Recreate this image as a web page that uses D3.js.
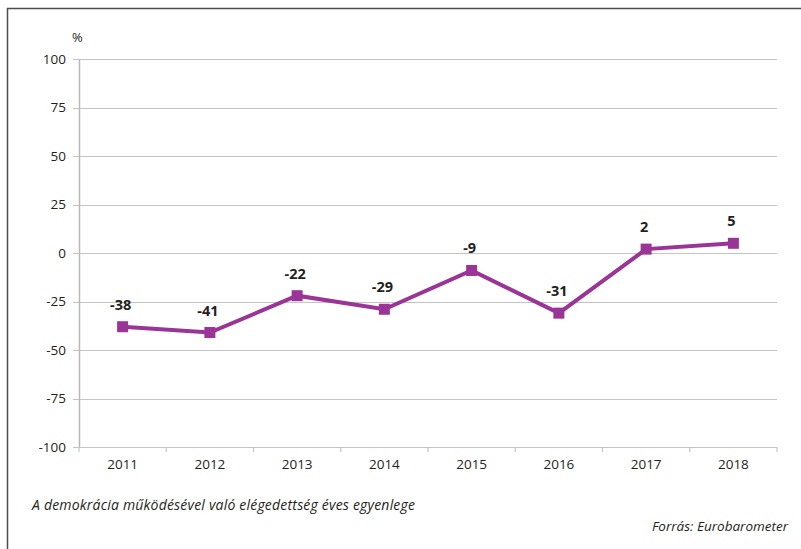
<!DOCTYPE html>
<html>
<head>
<meta charset="utf-8">
<script src="https://cdn.jsdelivr.net/npm/d3@7"></script>
<style>
  body { margin: 0; background: #fff; }
  svg text { font-family: "Open Sans", "Noto Sans", sans-serif; fill: #231f20; }
</style>
</head>
<body>
<div id="chart"></div>
<script>
var years = ["2011", "2012", "2013", "2014", "2015", "2016", "2017", "2018"];
var balance = [-38, -41, -22, -29, -9, -31, 2, 5];
var yTicks = [100, 75, 50, 25, 0, -25, -50, -75, -100];

var width = 801,
    height = 549;

var margin = {left: 79, right: 24, top: 59, bottom: 102};

var svg = d3.select("#chart").append("svg")
    .attr("width", width)
    .attr("height", height);

// frame
svg.append("path")
    .attr("d", "M7.5," + height + "V8.5H" + width)
    .attr("fill", "none")
    .attr("stroke", "#4d4d4d")
    .attr("stroke-width", 1.5);

var x = d3.scaleBand()
    .domain(years)
    .range([margin.left, width - margin.right]);

var y = d3.scaleLinear()
    .domain([-100, 100])
    .range([height - margin.bottom, margin.top]);

// gridlines
svg.append("g")
    .selectAll("line")
    .data(yTicks)
    .enter().append("line")
    .attr("x1", margin.left - 6)
    .attr("x2", width - margin.right)
    .attr("y1", function(d) {return Math.round(y(d)) + 0.5})
    .attr("y2", function(d) {return Math.round(y(d)) + 0.5})
    .attr("stroke", "#c4c4c4")
    .attr("stroke-width", 1.2);

var yAxis = svg.append("g")
    .attr("transform", "translate(" + margin.left + ",0)")
    .call(d3.axisLeft(y).tickValues(yTicks).tickSize(0).tickPadding(13)
        .tickFormat(function(d) {return String(d)}));
yAxis.select(".domain").attr("stroke", "#b8b8b8").attr("stroke-width", 1.5);
yAxis.selectAll("text").style("font-size", "13.5px").style("font-family", "\"Open Sans\", sans-serif").attr("fill", "#231f20");

var xAxis = svg.append("g")
    .attr("transform", "translate(0," + (Math.round(y(-100)) + 0.5) + ")")
    .call(d3.axisBottom(x).tickSize(0).tickPadding(12));
xAxis.select(".domain").remove();
xAxis.selectAll("text").style("font-size", "13.5px").style("font-family", "\"Open Sans\", sans-serif").attr("fill", "#231f20");

// category boundary ticks
svg.append("g")
    .selectAll("line")
    .data(years.concat(["end"]))
    .enter().append("line")
    .attr("x1", function(d, i) {return margin.left + i * x.step()})
    .attr("x2", function(d, i) {return margin.left + i * x.step()})
    .attr("y1", y(-100))
    .attr("y2", y(-100) + 5)
    .attr("stroke", "#c4c4c4")
    .attr("stroke-width", 1.2);

svg.append("text")
    .attr("x", 72)
    .attr("y", 42)
    .style("font-size", "13px")
    .text("%");

var pts = years.map(function(d, i) {return [x(d) + x.bandwidth() / 2, y(balance[i]), balance[i]]});

svg.append("path")
    .datum(pts)
    .attr("d", d3.line())
    .attr("fill", "none")
    .attr("stroke", "#9b3497")
    .attr("stroke-width", 4);

svg.append("g")
    .selectAll("rect")
    .data(pts)
    .enter().append("rect")
    .attr("x", function(d) {return d[0] - 5.5})
    .attr("y", function(d) {return d[1] - 5.5})
    .attr("width", 11)
    .attr("height", 11)
    .attr("fill", "#9b3497");

svg.append("g")
    .selectAll("text")
    .data(pts)
    .enter().append("text")
    .attr("x", function(d) {return d[0] - 2})
    .attr("y", function(d) {return d[1] - 17})
    .attr("text-anchor", "middle")
    .style("font-size", "14.5px")
    .style("font-weight", "bold")
    .text(function(d) {return d[2]});

svg.append("text")
    .attr("x", 32)
    .attr("y", 510)
    .style("font-size", "14px")
    .style("font-style", "italic")
    .attr("textLength", 383)
    .text("A demokrácia működésével való elégedettség éves egyenlege");

svg.append("text")
    .attr("x", 788)
    .attr("y", 531)
    .attr("text-anchor", "end")
    .style("font-size", "13.5px")
    .style("font-style", "italic")
    .text("Forrás: Eurobarometer");
</script>
</body>
</html>
